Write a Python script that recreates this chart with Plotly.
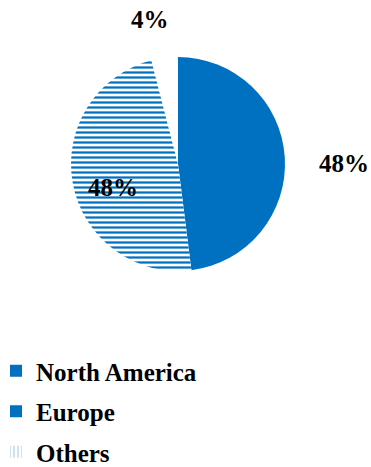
import plotly.graph_objects as go

labels = ["North America", "Europe", "Others"]
values = [48, 48, 4]

BLUE = "#0070C0"
FONT = "Liberation Serif"

total = sum(values)
pct = [f"{v / total * 100:.0f}%" for v in values]

fig = go.Figure()

# main pie (no legend)
fig.add_trace(go.Pie(
    labels=labels,
    values=values,
    sort=False,
    direction="clockwise",
    rotation=0,
    textinfo="none",
    hoverinfo="label+percent",
    marker=dict(
        colors=[BLUE, "white", "white"],
        line=dict(width=0),
        pattern=dict(
            shape=["", "-", ""],
            fgcolor=[BLUE, BLUE, "white"],
            bgcolor=[BLUE, "white", "white"],
            size=[5, 5, 4],
            solidity=[0.5, 0.45, 0.1],
        ),
    ),
    domain=dict(x=[71 / 371, 285 / 371], y=[1 - 271 / 467, 1 - 57 / 467]),
    showlegend=False,
))

# legend entries (one group each so spacing can be set)
legend_marker = [
    dict(colors=[BLUE], line=dict(width=0)),
    dict(colors=[BLUE], line=dict(width=0)),
    dict(colors=["white"], line=dict(width=0),
         pattern=dict(shape="|", fgcolor="#9DC3E6", bgcolor="white", size=4, solidity=0.25)),
]
for i, (lab, mk) in enumerate(zip(labels, legend_marker)):
    fig.add_trace(go.Pie(
        labels=[lab], values=[values[i]],
        textinfo="none", hoverinfo="skip",
        marker=mk,
        domain=dict(x=[0, 0.0001], y=[0, 0.0001]),
        legendgroup=f"g{i}",
        showlegend=True,
    ))

# label positions (pixels) for the three percentages
label_px = [(344, 163), (113, 188), (150, 20)]
for (px, py), t in zip(label_px, pct):
    fig.add_annotation(
        x=px / 371, y=1 - py / 467, xref="paper", yref="paper",
        text=f"<b>{t}</b>", showarrow=False,
        font=dict(family=FONT, size=25, color="black"),
        xanchor="center", yanchor="middle",
    )

fig.update_layout(
    width=371, height=467,
    margin=dict(l=0, r=0, t=0, b=0, autoexpand=False),
    paper_bgcolor="white",
    plot_bgcolor="white",
    legend=dict(
        orientation="v",
        x=-4 / 371, xanchor="left",
        y=1 - 348 / 467, yanchor="top",
        tracegroupgap=5,
        font=dict(family=FONT, size=25, color="black", weight="bold"),
        bgcolor="rgba(0,0,0,0)",
    ),
)

fig.write_html("out.html")
